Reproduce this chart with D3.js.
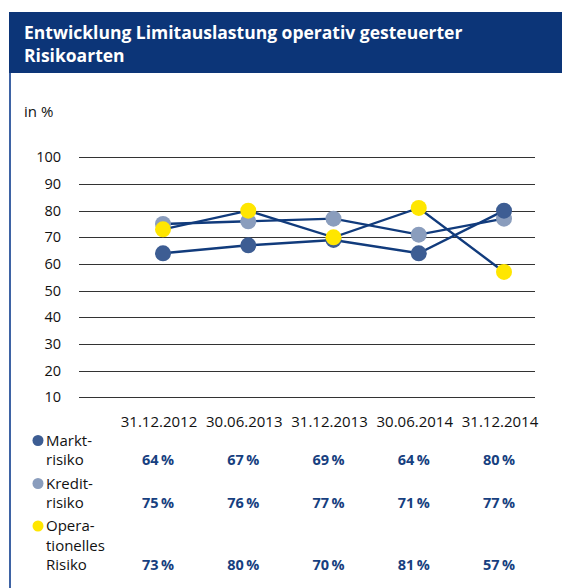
<!DOCTYPE html>
<html>
<head>
<meta charset="utf-8">
<script src="https://cdn.jsdelivr.net/npm/d3@7"></script>
<style>
  body { margin: 0; background: #fff; }
  svg { display: block; font-family: "Open Sans", "Noto Sans", sans-serif; }
</style>
</head>
<body>
<div id="chart"></div>
<script>
// data
const dates = ["31.12.2012", "30.06.2013", "31.12.2013", "30.06.2014", "31.12.2014"];
const marktrisiko = [64, 67, 69, 64, 80];
const kreditrisiko = [75, 76, 77, 71, 77];
const operationell = [73, 80, 70, 81, 57];
const yTicks = [10, 20, 30, 40, 50, 60, 70, 80, 90, 100];

const seriesNames = [["Markt-", "risiko"], ["Kredit-", "risiko"], ["Opera-", "tionelles", "Risiko"]];
const seriesColors = ["#3d5d93", "#8a9dbd", "#ffe600"];

const W = 562, H = 588;
const svg = d3.select("#chart").append("svg").attr("width", W).attr("height", H);

// frame + header
svg.append("rect").attr("x", 10).attr("y", 72).attr("width", W).attr("height", H)
  .attr("fill", "#fff").attr("stroke", "#3e63a4").attr("stroke-width", 2);
svg.append("rect").attr("x", 9).attr("y", 12).attr("width", W).attr("height", 61).attr("fill", "#0c3578");
svg.append("text").attr("x", 24).attr("y", 39).attr("fill", "#fff")
  .style("font-size", "17.5px").style("font-weight", "bold")
  .text("Entwicklung Limitauslastung operativ gesteuerter");
svg.append("text").attr("x", 24).attr("y", 62).attr("fill", "#fff")
  .style("font-size", "17.5px").style("font-weight", "bold")
  .text("Risikoarten");

svg.append("text").attr("x", 24).attr("y", 117).style("font-size", "15px").attr("fill", "#111").text("in %");

// scales
const y = d3.scaleLinear().domain([10, 100]).range([397.3, 157.3]);
const x = d3.scalePoint().domain(dates).range([163, 504]);

// grid + tick labels
svg.selectAll(".grid").data(yTicks).join("line")
  .attr("class", "grid")
  .attr("x1", 79).attr("x2", 535)
  .attr("y1", d => Math.round(y(d)) + 0.5).attr("y2", d => Math.round(y(d)) + 0.5)
  .attr("stroke", "#333").attr("stroke-width", 1.2);

svg.selectAll(".ytick").data(yTicks).join("text")
  .attr("class", "ytick")
  .attr("x", 61).attr("y", d => y(d) + 5)
  .attr("text-anchor", "end")
  .style("font-size", "14.5px").attr("fill", "#111")
  .text(d => d);

// lines
const series = [marktrisiko, kreditrisiko, operationell];
const line = d3.line().x((d, i) => x(dates[i])).y(d => y(d));
svg.selectAll(".line").data(series).join("path")
  .attr("class", "line")
  .attr("d", line)
  .attr("fill", "none")
  .attr("stroke", "#113b7c")
  .attr("stroke-width", 2.4);

// dots: Kredit under Markt under Operationell
[1, 0, 2].forEach(s => {
  svg.selectAll(".dot" + s).data(series[s]).join("circle")
    .attr("class", "dot" + s)
    .attr("cx", (d, i) => x(dates[i]))
    .attr("cy", d => y(d))
    .attr("r", 8)
    .attr("fill", seriesColors[s]);
});

// table header (dates)
svg.selectAll(".date").data(dates).join("text")
  .attr("class", "date")
  .attr("x", d => x(d) - 4).attr("y", 427)
  .attr("text-anchor", "middle")
  .style("font-size", "15px").attr("fill", "#111")
  .text(d => d);

// legend + values
const rowY = [465, 508, 570];
seriesNames.forEach((names, s) => {
  const top = rowY[s] - (names.length - 1) * 19.5;
  svg.append("circle").attr("cx", 38).attr("cy", top - 5).attr("r", 5.5).attr("fill", seriesColors[s]);
  names.forEach((n, k) => {
    svg.append("text").attr("x", 46).attr("y", top + k * 19.5)
      .style("font-size", "15px").attr("fill", "#111").text(n);
  });
  svg.selectAll(".val" + s).data(series[s]).join("text")
    .attr("class", "val" + s)
    .attr("x", (d, i) => x(dates[i]) - 5).attr("y", rowY[s])
    .attr("text-anchor", "middle")
    .style("font-size", "14.5px").style("font-weight", "bold").attr("fill", "#173f80")
    .text(d => d + "\u2009%");
});
</script>
</body>
</html>
